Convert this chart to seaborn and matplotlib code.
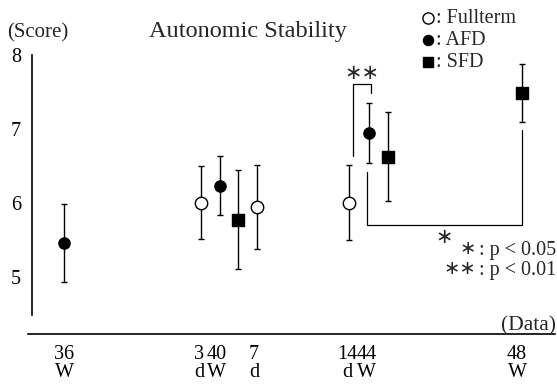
import matplotlib
matplotlib.use("Agg")
import matplotlib.pyplot as plt
import seaborn as sns
import pandas as pd

# ---- data ----
tick_pos = [36.0, 39.58, 40.05, 41.03, 43.50, 44.02, 48.0]
tick_labels = ["36\nW", "3\nd", "40\nW", "7\nd", "14\nd", "44\nW", "48\nW"]

full_x = [39.63, 41.10, 43.55]
full_mean = [6.01, 5.95, 6.01]
full_sd = [0.49, 0.57, 0.51]

afd_x = [36.00, 40.13, 44.08]
afd_mean = [5.46, 6.24, 6.95]
afd_sd = [0.53, 0.40, 0.41]

sfd_x = [40.60, 44.58, 48.13]
sfd_mean = [5.78, 6.63, 7.49]
sfd_sd = [0.67, 0.60, 0.39]

groups = ["Fullterm", "AFD", "SFD"]

frames = []
for g, xs, ms, sds in [("Fullterm", full_x, full_mean, full_sd),
                       ("AFD", afd_x, afd_mean, afd_sd),
                       ("SFD", sfd_x, sfd_mean, sfd_sd)]:
    frames.append(pd.DataFrame({"group": g, "x": xs, "mean": ms, "sd": sds}))
df = pd.concat(frames, ignore_index=True)

sns.set_style("white")
plt.rcParams["font.family"] = ["Liberation Serif", "DejaVu Serif"]

W, H = 557, 385
fig = plt.figure(figsize=(W / 100, H / 100), dpi=100)
ax = fig.add_axes([28 / W, 1 - 334 / H, (555 - 28) / W, (334 - 47.9) / H])

xlim = (35.046, 49.007)
ylim = (4.234, 8.1)

styles = {
    "Fullterm": dict(marker="o", color="white", s=80),
    "AFD": dict(marker="o", color="black", s=65),
    "SFD": dict(marker="s", color="black", s=65),
}

# error bars
ax.errorbar(df["x"], df["mean"], yerr=df["sd"], fmt="none", ecolor="black",
            elinewidth=1.0, capsize=2.5, capthick=1.0, zorder=2)

for g in groups:
    sub = df[df["group"] == g]
    st = styles[g]
    sns.scatterplot(data=sub, x="x", y="mean", marker=st["marker"], color=st["color"],
                    s=st["s"], edgecolor="black", linewidth=1.0, ax=ax, label=": " + g,
                    zorder=3)

# significance brackets derived from the data
def pt(g, i):
    sub = df[df["group"] == g].reset_index(drop=True)
    return sub.loc[i, "x"], sub.loc[i, "mean"], sub.loc[i, "sd"]

fx, fm, fs = pt("Fullterm", 2)
ax_, am, asd = pt("AFD", 2)
sx, sm, ssd = pt("SFD", 2)

# ** bracket between Fullterm 14d and AFD 44W
bx0, bx1 = fx + 0.10, ax_ + 0.05
btop = am + asd + 0.25
ax.plot([bx0, bx0, bx1, bx1], [fm + fs + 0.12, btop, btop, am + asd + 0.13],
        color="black", lw=0.9, zorder=1)
ax.text((bx0 + bx1) / 2, btop + 0.02, "∗∗", ha="center", va="bottom", fontsize=15,
        family=["DejaVu Sans"])

# * bracket between AFD 44W and SFD 48W
cx0, cx1 = ax_ - 0.05, sx - 0.01
cbot = 5.71
ax.plot([cx0, cx0, cx1, cx1], [am - asd - 0.12, cbot, cbot, sm - ssd - 0.11],
        color="black", lw=0.9, zorder=1)
ax.text((cx0 + cx1) / 2, cbot - 0.03, "∗", ha="center", va="top", fontsize=15,
        family=["DejaVu Sans"])

# axes styling
ax.set_xlim(*xlim)
ax.set_ylim(*ylim)
for side in ["top", "right"]:
    ax.spines[side].set_visible(False)
ax.spines["left"].set_position(("data", 35.15))
ax.spines["left"].set_bounds(4.49, 8.0)
ax.spines["left"].set_color("black")
ax.spines["left"].set_linewidth(1.2)
ax.spines["bottom"].set_color("black")
ax.spines["bottom"].set_linewidth(1.2)
ax.patch.set_alpha(0)

ax.set_xticks(tick_pos)
ax.set_xticklabels(tick_labels, fontsize=14.5, linespacing=0.95)
ax.set_yticks([5, 6, 7, 8])
ax.set_yticklabels(["5", "6", "7", "8"], fontsize=14.5)
ax.tick_params(axis="x", direction="out", length=4, width=1, pad=4, colors="black",
               labelsize=14.5)
ax.tick_params(axis="y", direction="out", length=6, width=1, pad=2, colors="black",
               labelsize=14.5)
ax.set_xlabel("")
ax.set_ylabel("")

# legend
leg = ax.legend(loc="upper left", bbox_to_anchor=(406 / W, 1 + 1 / H),
                bbox_transform=fig.transFigure, frameon=False, fontsize=14.5,
                handletextpad=-0.2, labelspacing=0.15, borderpad=0, handlelength=1.2,
                markerscale=0.9)

# texts
fig.text(7 / W, 1 - 33 / H, "(Score)", ha="left", va="center", fontsize=15)
fig.text(248 / W, 1 - 31 / H, "Autonomic Stability", ha="center", va="center", fontsize=17.5)
fig.text(556 / W, 1 - 326 / H, "(Data)", ha="right", va="center", fontsize=15.5)
fig.text(556 / W, 1 - 250 / H, ": p < 0.05", ha="right", va="center", fontsize=14.5)
fig.text(556 / W, 1 - 270 / H, ": p < 0.01", ha="right", va="center", fontsize=14.5)
fig.text(468 / W, 1 - 249 / H, "∗", ha="center", va="center", fontsize=14,
         family=["DejaVu Sans"])
fig.text(460 / W, 1 - 269 / H, "∗∗", ha="center", va="center", fontsize=14,
         family=["DejaVu Sans"])

fig.savefig("out.png", dpi=100)
